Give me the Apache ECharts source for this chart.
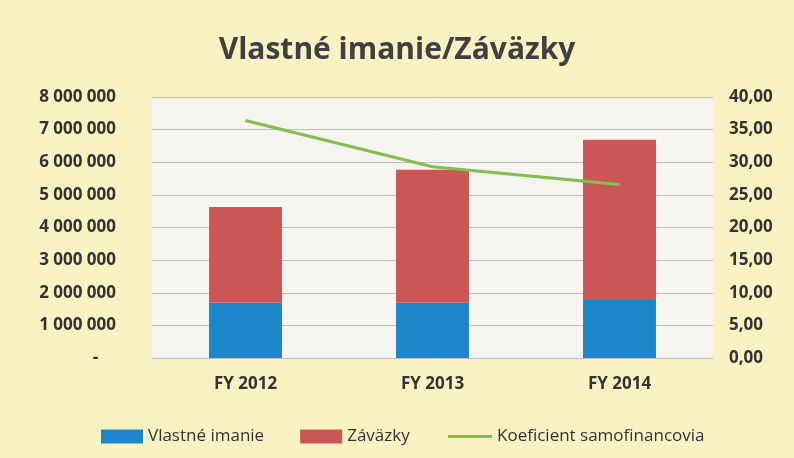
<!DOCTYPE html>
<html><head><meta charset="utf-8">
<script src="https://cdn.jsdelivr.net/npm/echarts@6/dist/echarts.min.js"></script>
<style>html,body{margin:0;padding:0;background:#FBF2C3;}#c{width:794px;height:458px;}</style>
</head><body><div id="c"></div>
<script>
const categories = ['FY 2012', 'FY 2013', 'FY 2014'];
const vlastneImanie = [1690000, 1690000, 1780000];
const zavazky = [2940000, 4080000, 4910000];
const koeficient = [36.4, 29.3, 26.6];
const leftTicks = [0, 1000000, 2000000, 3000000, 4000000, 5000000, 6000000, 7000000, 8000000];
const rightTicks = [0, 5, 10, 15, 20, 25, 30, 35, 40];

const font = '"Open Sans", "Noto Sans", sans-serif';
const legendText = { fontFamily: font, fontSize: 17, color: '#333' };
const chart = echarts.init(document.getElementById('c'));
chart.setOption({
  backgroundColor: '#FBF2C3',
  animation: false,
  title: {
    text: 'Vlastné imanie/Záväzky', left: 'center', top: 30,
    textStyle: { fontFamily: font, fontWeight: 'bold', fontSize: 30, color: '#404040' }
  },
  legend: [
    {
      top: 423, left: 96, itemGap: 36, itemWidth: 42, itemHeight: 14,
      textStyle: legendText,
      data: [
        { name: 'Vlastné imanie', icon: 'rect' },
        { name: 'Záväzky', icon: 'rect' }
      ]
    },
    {
      top: 423, left: 443, itemWidth: 44, itemHeight: 3,
      textStyle: legendText,
      data: [{ name: 'Koeficient samofinancovia', icon: 'rect' }]
    }
  ],
  grid: { left: 152, right: 81, top: 97, bottom: 100, show: true, backgroundColor: '#F5F4EF', borderWidth: 0 },
  xAxis: {
    type: 'category', data: categories,
    axisLine: { show: false }, axisTick: { show: false },
    axisLabel: { fontFamily: font, fontSize: 17, fontWeight: 'bold', color: '#333', margin: 18 }
  },
  yAxis: [
    {
      type: 'value', min: 0, max: 8000000, interval: 1000000,
      axisLine: { show: false }, axisTick: { show: false },
      splitLine: { lineStyle: { color: '#BDBDBD', width: 1 } },
      axisLabel: {
        fontFamily: font, fontSize: 17, fontWeight: 'bold', color: '#333', margin: 36,
        formatter: v => v === 0 ? '-    ' : String(v).replace(/\B(?=(\d{3})+(?!\d))/g, ' ')
      }
    },
    {
      type: 'value', min: 0, max: 40, interval: 5, position: 'right',
      axisLine: { show: false }, axisTick: { show: false },
      splitLine: { show: false },
      axisLabel: {
        fontFamily: font, fontSize: 17, fontWeight: 'bold', color: '#333', margin: 16,
        formatter: v => v.toFixed(2).replace('.', ',')
      }
    }
  ],
  series: [
    { name: 'Vlastné imanie', type: 'bar', stack: 's', data: vlastneImanie, barWidth: '39%', itemStyle: { color: '#1C86C9' } },
    { name: 'Záväzky', type: 'bar', stack: 's', data: zavazky, itemStyle: { color: '#CB5656' } },
    { name: 'Koeficient samofinancovia', type: 'line', yAxisIndex: 1, data: koeficient,
      symbol: 'none', lineStyle: { color: '#7FC04F', width: 3 }, itemStyle: { color: '#7FC04F' } }
  ]
});
</script></body></html>
